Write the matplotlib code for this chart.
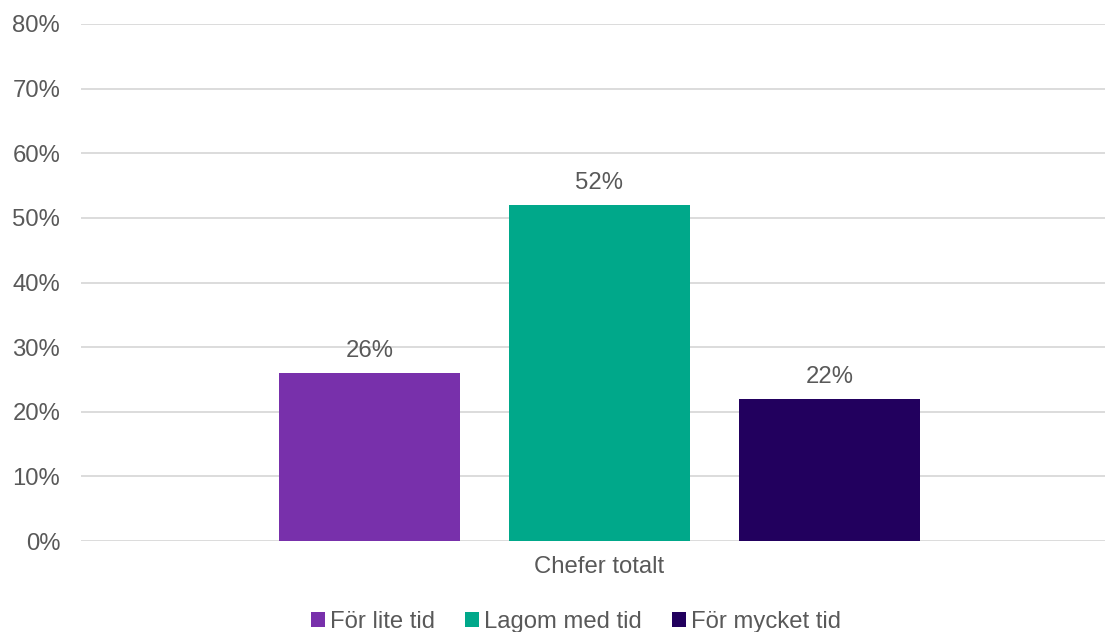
import numpy as np
import matplotlib.pyplot as plt

plt.rcParams['font.family'] = ['Liberation Sans', 'DejaVu Sans']

category = "Chefer totalt"
series = ["För lite tid", "Lagom med tid", "För mycket tid"]
values = [26, 52, 22]
colors = ["#7830AB", "#00A88A", "#22005E"]

text_color = "#595959"
grid_color = "#D9D9D9"
fs = 17.2

W, H = 1105, 632
fig = plt.figure(figsize=(W / 100, H / 100), dpi=100)
ax = fig.add_axes([81 / W, 1 - 541 / H, 1037 / W, (541 - 24) / H])

bar_w = 181 / 1037
step = 230 / 1037
offsets = (np.arange(len(series)) - 1) * step

for off, val, col, name in zip(offsets, values, colors, series):
    ax.bar(off, val, width=bar_w, color=col, label=name, zorder=3)
    ax.annotate(f"{val}%", (off, val), xytext=(0, 8), textcoords="offset points",
                ha="center", va="bottom", fontsize=fs, color=text_color)

ax.set_xlim(-0.5, 0.5)
ax.set_ylim(0, 80)
ax.set_yticks(np.arange(0, 81, 10))
ax.set_yticklabels([f"{t}%" for t in range(0, 81, 10)])
ax.set_xticks([0])
ax.set_xticklabels([category])
ax.tick_params(axis="both", length=0, labelsize=fs, labelcolor=text_color)
ax.tick_params(axis="y", pad=15)
ax.tick_params(axis="x", pad=11)

ax.grid(axis="y", color=grid_color, linewidth=1.3, zorder=0)
for s in ax.spines.values():
    s.set_visible(False)

fig.legend(loc="center", bbox_to_anchor=(576 / W, 10 / H), ncol=3, frameon=False,
           fontsize=fs, labelcolor=text_color, handlelength=0.6, handleheight=0.6,
           handletextpad=0.2, columnspacing=1.25)

fig.savefig("out.png", dpi=100)
